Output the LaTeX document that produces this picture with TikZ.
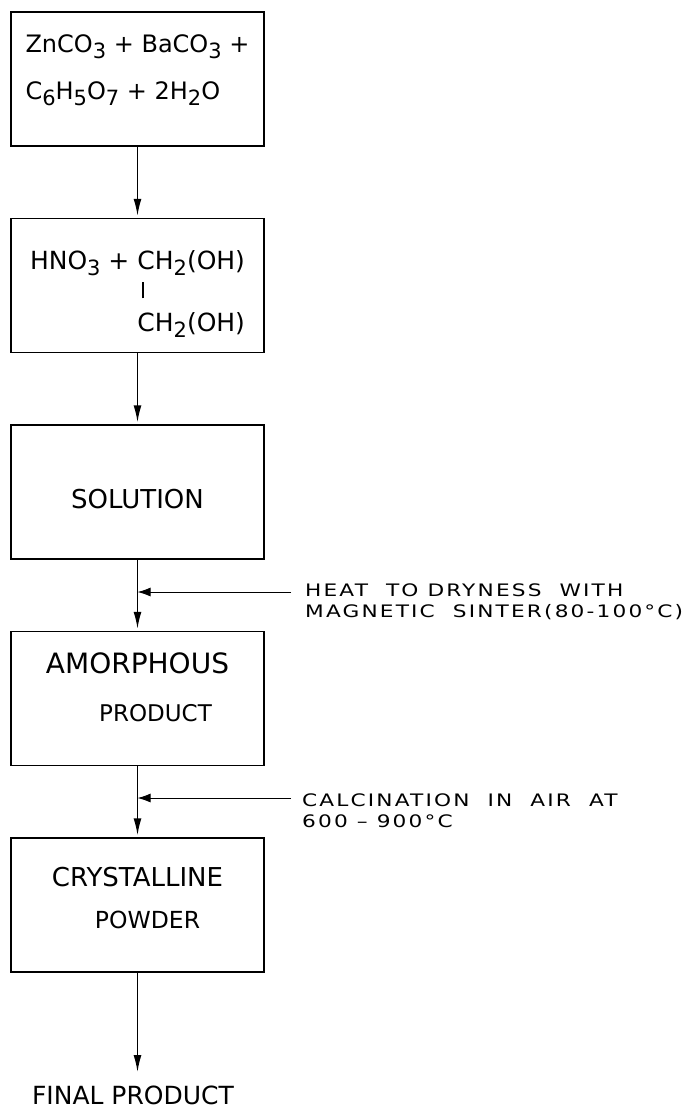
\documentclass[tikz,border=0pt]{standalone}
\usepackage{fontspec}
\setmainfont{DejaVu Sans}
\newfontfamily\notefont[FakeStretch=1.26,LetterSpace=12.5]{DejaVu Sans}
\usetikzlibrary{arrows.meta,positioning}
\newcommand\chs[1]{\raisebox{-6pt}{\fontsize{21}{21}\selectfont #1}}

\begin{document}
\begin{tikzpicture}[x=1pt, y=-1pt,
    box/.style={draw, line width=1.5pt, minimum width=253pt, minimum height=134pt,
      font=\fontsize{26}{31}\selectfont},
    note/.style={align=left, inner sep=0pt, anchor=north west,
      font=\notefont\fontsize{17.2}{20.5}\selectfont},
    arrow/.style={-{Latex[length=17pt,width=8pt]}, line width=1.5pt, shorten >=2pt},
    side/.style={-{Latex[length=13pt,width=9pt]}, line width=1pt}
  ]
  \useasboundingbox (0,0) rectangle (694,1109);

  \node[box, align=left, font=\fontsize{24}{31}\selectfont] (mix) at (137.5,79)
    {ZnCO\chs{3} + BaCO\chs{3} +\\[16pt]
     C\chs{6}H\chs{5}O\chs{7} + 2H\chs{2}O\rule[-24pt]{0pt}{0pt}};
  \node[box, align=left, font=\fontsize{25}{31}\selectfont, below=71pt of mix] (acid)
    {\rule{0pt}{36pt}HNO\chs{3} + CH\chs{2}(OH)\\[-2pt]
     \phantom{HNO\chs{3} + }\hspace{5pt}\rule{1.5pt}{16pt}\\[2pt]
     \phantom{HNO\chs{3} + }CH\chs{2}(OH)};
  \node[box, below=71pt of acid] (sol) {\raisebox{-7pt}[\height][\depth]{SOLUTION}};
  \node[box, align=center, below=71pt of sol] (amor)
    {{\fontsize{28}{30}\selectfont AMORPHOUS}\\[17pt]
     \hspace*{36pt}{\fontsize{23}{26}\selectfont PRODUCT}\rule[-22pt]{0pt}{0pt}};
  \node[box, align=center, below=71pt of amor] (cryst)
    {CRYSTALLINE\\[11pt]
     \hspace*{20pt}{\fontsize{23.5}{26}\selectfont POWDER}\rule[-14pt]{0pt}{0pt}};
  \node[font=\fontsize{25}{30}\selectfont] (final) at (133,1095) {FINAL PRODUCT};

  \draw[arrow] (mix) -- (acid);
  \draw[arrow] (acid) -- (sol);
  \draw[arrow] (sol) -- (amor);
  \draw[arrow] (amor) -- (cryst);
  \draw[arrow, shorten >=10pt] (cryst.south) -- (cryst.south |- final.north);

  % process conditions
  \node[note] (heat) at (305,584)
    {HEAT\ \ TO DRYNESS\ \ WITH\\MAGNETIC\ \ SINTER(80-100°C)};
  \coordinate (heatin) at (291,592);
  \draw[side] (heatin) -- (heatin -| sol.south);

  \node[note] (calc) at (302,794)
    {CALCINATION\ \ IN\ \ AIR\ \ AT\\600 \textendash\ 900°C};
  \coordinate (calcin) at (291,798);
  \draw[side] (calcin) -- (calcin -| amor.south);
\end{tikzpicture}
\end{document}
